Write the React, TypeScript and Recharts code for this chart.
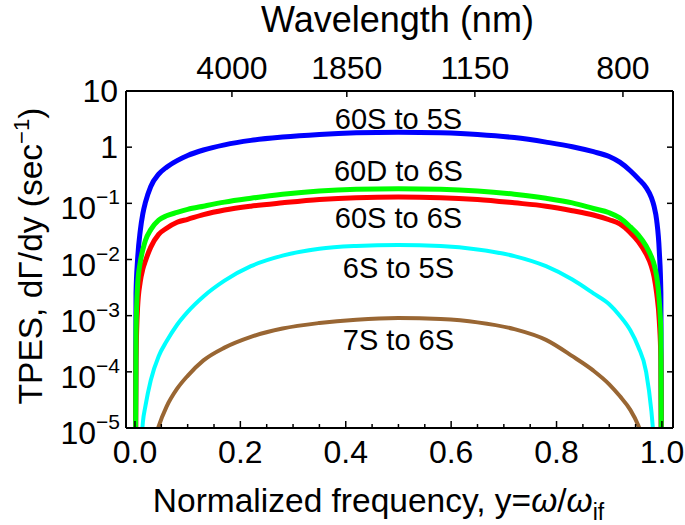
import React from 'react';
import { LineChart, Line, XAxis, YAxis, ReferenceDot } from 'recharts';

// ---- data ----
const xValues = [0, 0.002, 0.005, 0.01, 0.015, 0.02, 0.03, 0.045, 0.06, 0.08, 0.1, 0.13, 0.17, 0.22, 0.28, 0.35, 0.42, 0.5, 0.58, 0.65, 0.72, 0.78, 0.83, 0.87, 0.9, 0.92, 0.94, 0.955, 0.97, 0.98, 0.985, 0.99, 0.995, 0.998, 1.0];

const s60Sto5S = [1e-8, 0.0025, 0.01, 0.032, 0.066, 0.105, 0.2, 0.33, 0.44, 0.575, 0.71, 0.89, 1.1, 1.32, 1.51, 1.68, 1.8, 1.85, 1.8, 1.68, 1.48, 1.23, 1.02, 0.83, 0.68, 0.54, 0.38, 0.275, 0.19, 0.126, 0.089, 0.05, 0.014, 0.0025, 1e-8];
const s60Dto6S = [1e-8, 5e-4, 0.0035, 0.0089, 0.015, 0.022, 0.034, 0.05, 0.06, 0.069, 0.078, 0.089, 0.105, 0.123, 0.145, 0.166, 0.178, 0.182, 0.178, 0.166, 0.145, 0.123, 0.102, 0.081, 0.068, 0.055, 0.038, 0.0275, 0.0174, 0.0112, 0.0083, 0.005, 0.0018, 5e-4, 1e-8];
const s60Sto6S = [1e-8, 1.6e-4, 0.0014, 0.004, 0.0068, 0.0095, 0.0166, 0.028, 0.036, 0.046, 0.052, 0.063, 0.076, 0.089, 0.102, 0.117, 0.126, 0.129, 0.126, 0.117, 0.102, 0.089, 0.074, 0.062, 0.051, 0.043, 0.03, 0.021, 0.0126, 0.0076, 0.005, 0.0025, 8e-4, 1.6e-4, 1e-8];
const s6Sto5S = [null, null, null, 2.5e-6, 1.26e-5, 2.5e-5, 7.1e-5, 1.9e-4, 3.5e-4, 6.9e-4, 0.00117, 0.0022, 0.0042, 0.0076, 0.0117, 0.0155, 0.0174, 0.0182, 0.0174, 0.0151, 0.0115, 0.0076, 0.0044, 0.0025, 0.0016, 0.001, 5.5e-4, 2.8e-4, 1e-4, 2e-5, 5.6e-6, 1.6e-6, null, null, null];
const s7Sto6S = [null, null, null, null, null, null, 3.2e-6, 1.07e-5, 2.4e-5, 5e-5, 8.5e-5, 1.6e-4, 2.7e-4, 4.2e-4, 5.9e-4, 7.4e-4, 8.5e-4, 9.1e-4, 8.7e-4, 7.6e-4, 5.75e-4, 3.7e-4, 1.9e-4, 1.05e-4, 6.0e-5, 3.7e-5, 2.1e-5, 1.12e-5, 4.5e-6, null, null, null, null, null, null];

const seriesKeys = ['a60Sto5S', 'a60Dto6S', 'a60Sto6S', 'a6Sto5S', 'a7Sto6S'];
const seriesLabels = ['60S to 5S', '60D to 6S', '60S to 6S', '6S to 5S', '7S to 6S'];
const seriesColors = ['#0000ff', '#00ff00', '#ff0000', '#00ffff', '#996633'];
const seriesWidths = [5, 5, 5, 4, 4];
const labelYs = [3.24, 0.385, 0.0564, 0.007, 3.7e-4];
const drawOrder = [3, 4, 0, 2, 1];

const xMajorTicks = [0, 0.2, 0.4, 0.6, 0.8, 1.0];
const xTickLabels = ['0.0', '0.2', '0.4', '0.6', '0.8', '1.0'];
const xAllTicks = [0, 0.05, 0.1, 0.15, 0.2, 0.25, 0.3, 0.35, 0.4, 0.45, 0.5, 0.55, 0.6, 0.65, 0.7, 0.75, 0.8, 0.85, 0.9, 0.95, 1.0];
const wavelengthTickPositions = [0.184, 0.402, 0.645, 0.926];
const wavelengthLabels = ['4000', '1850', '1150', '800'];
const yTicks = [1e-5, 1e-4, 1e-3, 1e-2, 1e-1, 1, 10];
const yTickExponents = [-5, -4, -3, -2, -1, 0, 1];

const data = xValues.map((x, i) => ({
  x,
  a60Sto5S: s60Sto5S[i],
  a60Dto6S: s60Dto6S[i],
  a60Sto6S: s60Sto6S[i],
  a6Sto5S: s6Sto5S[i],
  a7Sto6S: s7Sto6S[i],
}));

const FONT = '"Liberation Sans", Arial, Helvetica, sans-serif';
const TICK_FS = 32;

function BottomTick(props: any) {
  const { x, y, payload } = props;
  const v = payload.value;
  const idx = xMajorTicks.findIndex((t) => Math.abs(t - v) < 1e-6);
  const major = idx >= 0;
  return (
    <g>
      <line x1={x} x2={x} y1={y} y2={y - (major ? 7 : 4)} stroke="#000" strokeWidth={1.5} />
      {major && (
        <text x={x} y={y + 35} textAnchor="middle" fontSize={TICK_FS} fontFamily={FONT} fill="#000">
          {xTickLabels[idx]}
        </text>
      )}
    </g>
  );
}

function TopTick(props: any) {
  const { x, y, payload } = props;
  const idx = wavelengthTickPositions.findIndex((t) => Math.abs(t - payload.value) < 1e-6);
  return (
    <g>
      <line x1={x} x2={x} y1={y} y2={y + 6} stroke="#000" strokeWidth={1.5} />
      <text x={x} y={y - 12} textAnchor="middle" fontSize={TICK_FS} fontFamily={FONT} fill="#000">
        {wavelengthLabels[idx]}
      </text>
    </g>
  );
}

function LeftTick(props: any) {
  const { x, y, payload } = props;
  const idx = yTicks.findIndex((t) => Math.abs(t - payload.value) / t < 1e-6);
  const e = yTickExponents[idx];
  let label: React.ReactNode;
  if (e === 1 || e === 0) {
    label = (
      <text x={x - 8} y={y + 11} textAnchor="end" fontSize={TICK_FS} fontFamily={FONT} fill="#000">
        {e === 1 ? '10' : '1'}
      </text>
    );
  } else {
    label = (
      <text x={x - 6} y={y + 16} textAnchor="end" fontSize={TICK_FS} fontFamily={FONT} fill="#000">
        <tspan>10</tspan>
        <tspan dy={-15} fontSize={21}>{'\u2212' + Math.abs(e)}</tspan>
      </text>
    );
  }
  return (
    <g>
      <line x1={x} x2={x + 6} y1={y} y2={y} stroke="#000" strokeWidth={1.5} />
      {label}
    </g>
  );
}

function RightTick(props: any) {
  const { x, y } = props;
  return <line x1={x} x2={x - 6} y1={y} y2={y} stroke="#000" strokeWidth={1.5} />;
}

const renderBottomTitle = (props: any) => {
  const vb = props.viewBox || { x: 126, y: 428, width: 547 };
  return (
    <text x={vb.x + vb.width / 2 - 21} y={vb.y + 84} textAnchor="middle" fontSize={33.5} fontFamily={FONT} fill="#000">
      <tspan>Normalized frequency, y=</tspan>
      <tspan fontStyle="italic">{'\u03c9'}</tspan>
      <tspan>/</tspan>
      <tspan fontStyle="italic">{'\u03c9'}</tspan>
      <tspan fontSize={23} dy={8}>if</tspan>
    </text>
  );
};

const renderTopTitle = (props: any) => {
  const vb = props.viewBox || { x: 126, y: 0, width: 547 };
  return (
    <text x={vb.x + vb.width / 2 - 2} y={32} textAnchor="middle" fontSize={36} fontFamily={FONT} fill="#000">
      Wavelength (nm)
    </text>
  );
};

const renderLeftTitle = () => {
  const cx = 42;
  const cy = 256;
  return (
    <text x={cx} y={cy} transform={`rotate(-90 ${cx} ${cy})`} textAnchor="middle" fontSize={33.5} fontFamily={FONT} fill="#000">
      <tspan>TPES, d{'\u0393'}/dy (sec</tspan>
      <tspan fontSize={22} dy={-13}>{'\u22121'}</tspan>
      <tspan dy={13}>)</tspan>
    </text>
  );
};

export default function App() {
  const axisLine = { stroke: '#000', strokeWidth: 2 };
  const xDomain: [number, number] = [-0.017, 1.021];
  const yDomain: [number, number] = [1e-5, 10];
  return (
    <div style={{ position: 'absolute', left: 0, top: 0, background: '#fff' }}>
      <LineChart width={685} height={525} data={data} margin={{ top: 0, right: 0, bottom: 0, left: 0 }}>
        <XAxis
          xAxisId="b"
          dataKey="x"
          type="number"
          domain={xDomain}
          allowDataOverflow
          ticks={xAllTicks}
          interval={0}
          tick={(p: any) => <BottomTick {...p} />}
          tickLine={false}
          tickSize={0}
          tickMargin={0}
          height={97}
          axisLine={axisLine}
          label={renderBottomTitle}
        />
        <XAxis
          xAxisId="t"
          orientation="top"
          dataKey="x"
          type="number"
          domain={xDomain}
          allowDataOverflow
          ticks={wavelengthTickPositions}
          interval={0}
          tick={(p: any) => <TopTick {...p} />}
          tickLine={false}
          tickSize={0}
          tickMargin={0}
          height={91}
          axisLine={axisLine}
          label={renderTopTitle}
        />
        <YAxis
          yAxisId="l"
          type="number"
          scale="log"
          domain={yDomain}
          allowDataOverflow
          ticks={yTicks}
          interval={0}
          tick={(p: any) => <LeftTick {...p} />}
          tickLine={false}
          tickSize={0}
          tickMargin={0}
          width={126}
          axisLine={axisLine}
          label={renderLeftTitle}
        />
        <YAxis
          yAxisId="r"
          orientation="right"
          type="number"
          scale="log"
          domain={yDomain}
          allowDataOverflow
          ticks={yTicks}
          interval={0}
          tick={(p: any) => <RightTick {...p} />}
          tickLine={false}
          tickSize={0}
          tickMargin={0}
          width={12}
          axisLine={axisLine}
        />
        {drawOrder.map((i) => (
          <Line
            key={seriesKeys[i]}
            xAxisId="b"
            yAxisId="l"
            dataKey={seriesKeys[i]}
            type="monotone"
            stroke={seriesColors[i]}
            strokeWidth={seriesWidths[i]}
            dot={false}
            activeDot={false}
            isAnimationActive={false}
            connectNulls={false}
          />
        ))}
        {seriesLabels.map((lab, i) => (
          <ReferenceDot
            key={lab}
            xAxisId="b"
            yAxisId="l"
            x={0.5}
            y={labelYs[i]}
            r={1}
            fill="none"
            stroke="none"
            label={{ value: lab, position: 'center', fontSize: 29, fontFamily: FONT, fill: '#000' }}
          />
        ))}
      </LineChart>
    </div>
  );
}
